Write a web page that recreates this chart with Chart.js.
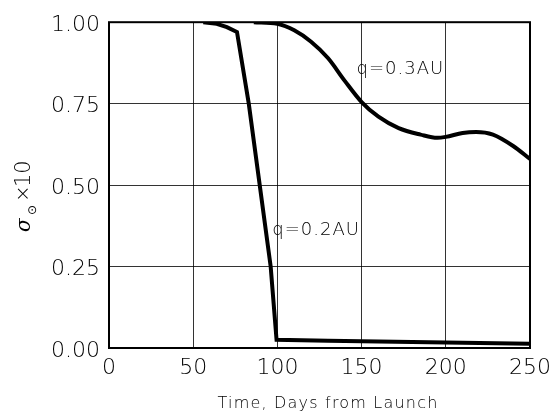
<!DOCTYPE html>
<html>
<head>
<meta charset="utf-8">
<script src="https://cdn.jsdelivr.net/npm/chart.js@4"></script>
<style>
  html, body { margin: 0; padding: 0; background: #fff; }
  #wrap { width: 559px; height: 416px; }
</style>
</head>
<body>
<div id="wrap"><canvas id="chart0"></canvas></div>
<script>
// days from launch / sigma x10
const days_q02 = [56, 64, 70, 76, 83, 96, 99.5, 130, 170, 210, 250];
const sigma_q02 = [1.0, 0.995, 0.985, 0.97, 0.75, 0.25, 0.025, 0.022, 0.019, 0.016, 0.013];

const days_q03 = [86, 100, 110, 120, 130, 140, 150, 160, 172, 185, 195, 200, 210, 218, 228, 240, 250];
const sigma_q03 = [1.0, 0.995, 0.975, 0.94, 0.89, 0.82, 0.755, 0.71, 0.675, 0.655, 0.645, 0.648, 0.66, 0.663, 0.655, 0.62, 0.58];

const x_ticks = [0, 50, 100, 150, 200, 250];
const y_ticks = [0, 0.25, 0.5, 0.75, 1.0];
const curve_labels = ["q=0.2AU", "q=0.3AU"];

const to_points = (xs, ys) => xs.map((x, i) => ({ x: x, y: ys[i] }));

const tick_font = { family: "DejaVu Sans", size: 22, weight: "200" };

// extra text: axis titles, curve labels, frame
const extras = {
  id: "extras",
  afterDraw(chart) {
    const ctx = chart.ctx;
    const a = chart.chartArea;
    const xs = chart.scales.x;
    const ys = chart.scales.y;
    ctx.save();
    ctx.strokeStyle = "#000";
    ctx.lineWidth = 2;
    ctx.strokeRect(a.left, a.top, a.right - a.left, a.bottom - a.top);

    ctx.fillStyle = "#000";
    ctx.textBaseline = "middle";
    ctx.textAlign = "left";
    ctx.font = "200 18px 'DejaVu Sans'";
    ctx.letterSpacing = "1px";
    ctx.fillText(curve_labels[0], xs.getPixelForValue(97), ys.getPixelForValue(0.36));
    ctx.fillText(curve_labels[1], xs.getPixelForValue(147), ys.getPixelForValue(0.855));

    ctx.font = "200 16px 'DejaVu Sans'";
    ctx.letterSpacing = "1.2px";
    ctx.textAlign = "center";
    ctx.fillText("Time, Days from Launch", 328, 404);

    // y title, rotated: sigma, subscript sun, x10
    ctx.letterSpacing = "0px";
    ctx.translate(30, 232);
    ctx.rotate(-Math.PI / 2);
    ctx.textAlign = "left";
    ctx.textBaseline = "alphabetic";
    ctx.font = "italic 20px 'DejaVu Serif'";
    ctx.fillText("σ", 0, 0);
    ctx.font = "12px 'DejaVu Sans'";
    ctx.fillText("⊙", 17, 6);
    ctx.font = "200 20px 'DejaVu Sans'";
    ctx.fillText("×", 30, -1);
    ctx.font = "200 21px 'DejaVu Sans'";
    ctx.fillText("10", 45, 0);
    ctx.restore();
  },
};

new Chart(document.getElementById("chart0"), {
  type: "line",
  data: {
    datasets: [
      {
        label: curve_labels[0],
        data: to_points(days_q02, sigma_q02),
        borderColor: "#000",
        borderWidth: 4,
        pointRadius: 0,
        tension: 0,
      },
      {
        label: curve_labels[1],
        data: to_points(days_q03, sigma_q03),
        borderColor: "#000",
        borderWidth: 4,
        pointRadius: 0,
        cubicInterpolationMode: "monotone",
      },
    ],
  },
  options: {
    responsive: true,
    maintainAspectRatio: false,
    animation: false,
    events: [],
    layout: { padding: { top: 18, right: 29, left: 0, bottom: 0 } },
    plugins: { legend: { display: false }, tooltip: { enabled: false } },
    scales: {
      x: {
        type: "linear",
        min: 0,
        max: 250,
        afterBuildTicks: (s) => { s.ticks = x_ticks.map((v) => ({ value: v })); },
        afterFit: (s) => { s.height = 68; },
        grid: { color: "rgba(0,0,0,0.8)", lineWidth: 1, drawTicks: false },
        border: { display: false },
        ticks: { color: "#000", font: tick_font, padding: 7, maxRotation: 0, autoSkip: false },
      },
      y: {
        min: 0,
        max: 1,
        afterBuildTicks: (s) => { s.ticks = y_ticks.map((v) => ({ value: v })); },
        afterFit: (s) => { s.width = 109; },
        grid: { color: "rgba(0,0,0,0.8)", lineWidth: 1, drawTicks: false },
        border: { display: false },
        ticks: {
          color: "#000",
          font: tick_font,
          padding: 9,
          labelOffset: 3,
          callback: (v) => v.toFixed(2),
        },
      },
    },
  },
  plugins: [extras],
});
</script>
</body>
</html>
